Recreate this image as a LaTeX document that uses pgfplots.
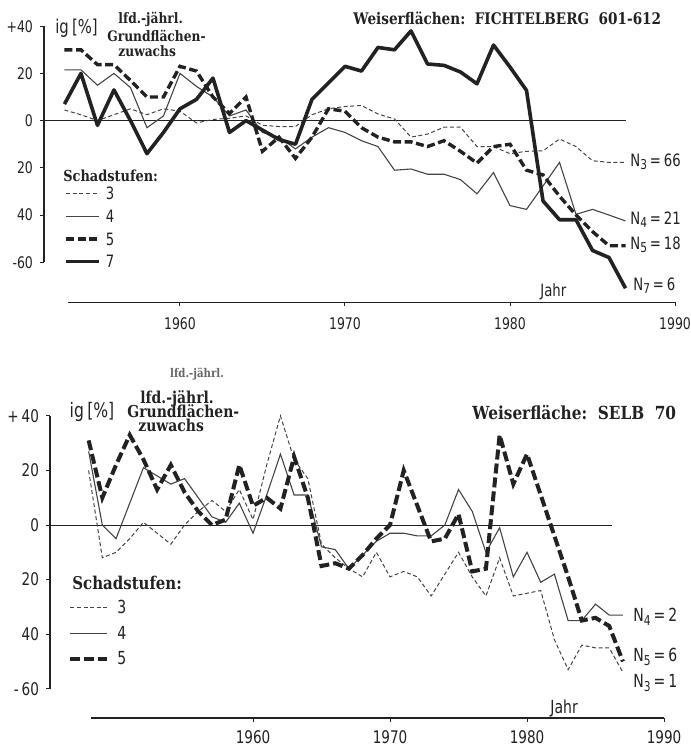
\documentclass[border=0pt]{standalone}
\usepackage{fontspec}
\usepackage{pgfplots}
\pgfplotsset{compat=1.18}
\newfontfamily\din[FakeStretch=0.78]{DejaVu Sans}
\newfontfamily\serifb[FakeStretch=0.85]{DejaVu Serif}
\definecolor{ink}{HTML}{222222}
\definecolor{thinc}{HTML}{444444}
\newcommand\sub[1]{\raisebox{-0.35ex}{\fontsize{6.8}{6.8}\selectfont #1}}
\pgfplotsset{
  sthree/.style={line width=0.5pt, thinc, dash pattern=on 2pt off 1.3pt, no marks},
  sfour/.style={line width=0.55pt, thinc, no marks},
  sfive/.style={line width=1.7pt, ink, dash pattern=on 4pt off 1.8pt, no marks},
  sseven/.style={line width=1.8pt, ink, line join=round, no marks},
}
\begin{document}
\begin{tikzpicture}
\useasboundingbox (0,0) rectangle (345pt,373.5pt);
% ---------------- TOP ----------------
\begin{axis}[
  at={(22pt,222.3pt)}, anchor=south west,
  scale only axis, width=315.5pt, height=144pt,
  xmin=1951.76, xmax=1990, ymin=-77, ymax=45,
  axis line style={draw=none}, clip=false,
  xtick={1960,1970,1980,1990}, xticklabels={1960,1970,1980,1990},
  ytick={-60,-40,-20,0,20,40}, yticklabels={-60,40,20,0,20,+40},
  tick pos=left, tick align=outside, major tick length=2pt,
  tick style={ink, line width=0.5pt},
  ticklabel style={font=\din\fontsize{8}{8}\selectfont, text=ink},
  xticklabel style={yshift=-2pt},
  legend cell align=left,
  legend image code/.code={\draw[#1] (0pt,0pt) -- (16.5pt,0pt);},
  legend style={at={(axis description cs:0.0317,0.399)}, anchor=north west,
    draw=none, fill=none, inner sep=0pt, row sep=5.3pt,
    nodes={inner ysep=0pt, inner xsep=2.5pt, text height=6pt, text depth=0pt,
      font=\din\fontsize{8.5}{8.5}\selectfont, text=ink}},
]
\addplot[forget plot, line width=0.5pt, ink] coordinates {(1951.76,0) (1987,0)};
\addplot[sthree] coordinates {
(1953,4.5)(1954,2.5)(1955,0)(1956,2.5)(1957,5)(1958,2.5)(1959,5)(1960,4)(1961,-1)(1962,0.5)
(1963,1)(1964,2)(1965,-2)(1966,-2.5)(1967,-2.5)(1968,2.5)(1969,5)(1970,6)(1971,6.4)(1972,2.8)
(1973,0.7)(1974,-7)(1975,-5.7)(1976,-2.8)(1977,-2.8)(1978,-11)(1979,-11)(1980,-14)(1981,-13)
(1982,-12.8)(1983,-7.8)(1984,-11)(1985,-17)(1986,-17.7)(1987,-17.7)};
\addplot[sfour] coordinates {
(1953,21.5)(1954,21.5)(1955,15)(1956,20)(1957,14)(1958,-3)(1959,2)(1960,20)(1961,14.5)(1962,10)
(1963,2)(1964,4.5)(1965,-5)(1966,-7)(1967,-12)(1968,-7)(1969,-3)(1970,-5)(1971,-8.5)(1972,-11)
(1973,-21)(1974,-20.5)(1975,-22.7)(1976,-22.7)(1977,-25)(1978,-31)(1979,-22)(1980,-36)(1981,-37.6)
(1982,-27.7)(1983,-17.7)(1984,-39.7)(1985,-37.6)(1986,-40)(1987,-42.5)};
\addplot[sfive] coordinates {
(1953,30)(1954,30)(1955,23.7)(1956,23.7)(1957,17)(1958,10)(1959,10)(1960,23)(1961,21)(1962,10)
(1963,3)(1964,10)(1965,-13)(1966,-7)(1967,-16)(1968,-7)(1969,5)(1970,4)(1971,-3)(1972,-7)
(1973,-9)(1974,-9)(1975,-11)(1976,-8.5)(1977,-13)(1978,-18)(1979,-11)(1980,-10)(1981,-21)
(1982,-23)(1983,-32)(1984,-40)(1985,-47)(1986,-53)(1987,-53)};
\addplot[sseven] coordinates {
(1953,7)(1954,20)(1955,-2)(1956,13)(1957,0)(1958,-14)(1959,-5)(1960,5)(1961,9)(1962,18)
(1963,-5)(1964,0)(1965,-4)(1966,-8)(1967,-10)(1968,9)(1969,16)(1970,23)(1971,21)(1972,31)
(1973,30)(1974,38)(1975,24)(1976,23.4)(1977,20.6)(1978,15.6)(1979,32)(1980,22.7)(1981,12.8)
(1982,-34)(1983,-42)(1984,-42)(1985,-55)(1986,-58)(1987,-71)};
\legend{3,4,5,7}
\draw[ink, line width=0.6pt] (axis cs:1951.76,-60) -- (axis cs:1951.76,40);
\draw[ink, line width=0.6pt] (axis cs:1953.2,-77) -- (axis cs:1990,-77);
\end{axis}
% ---------------- BOTTOM ----------------
\begin{axis}[
  at={(25pt,14.5pt)}, anchor=south west,
  scale only axis, width=307pt, height=157.9pt,
  xmin=1945.18, xmax=1990, ymin=-70.7, ymax=45,
  axis line style={draw=none}, clip=false,
  xtick={1960,1970,1980,1990}, xticklabels={1960,1970,1980,1990},
  ytick={-60,-40,-20,0,20,40}, yticklabels={-\,60,40,20,0,20,+\,40},
  tick pos=left, tick align=outside, major tick length=2pt,
  tick style={ink, line width=0.5pt},
  ticklabel style={font=\din\fontsize{8.7}{8.7}\selectfont, text=ink},
  xticklabel style={yshift=-1pt},
  legend cell align=left,
  legend image code/.code={\draw[#1] (0pt,0pt) -- (18.5pt,0pt);},
  legend style={at={(axis description cs:0.0293,0.370)}, anchor=north west,
    draw=none, fill=none, inner sep=0pt, row sep=6.8pt,
    nodes={inner ysep=0pt, inner xsep=4pt, text height=6pt, text depth=0pt,
      font=\din\fontsize{9}{9}\selectfont, text=ink}},
]
\addplot[forget plot, line width=0.5pt, ink] coordinates {(1945.18,0) (1986.2,0)};
\addplot[sthree] coordinates {
(1948,20)(1949,-12)(1950,-10)(1951,-5)(1952,1)(1953,-3)(1954,-7)(1955,0)(1956,5)(1957,9)
(1958,5)(1959,13)(1960,2)(1961,22)(1962,40)(1963,24)(1964,17)(1965,-7)(1966,-12)(1967,-16)
(1968,-19)(1969,-10)(1970,-19)(1971,-17)(1972,-19)(1973,-26)(1974,-18)(1975,-10)(1976,-19)
(1977,-26)(1978,-12)(1979,-26)(1980,-25)(1981,-24)(1982,-42)(1983,-53)(1984,-44)(1985,-45)
(1986,-45)(1987,-54)};
\addplot[sfour] coordinates {
(1948,27)(1949,0)(1950,-5)(1951,8)(1952,21)(1953,18)(1954,15)(1955,17)(1956,10)(1957,3)
(1958,1)(1959,8)(1960,-3)(1961,11)(1962,26)(1963,11)(1964,11)(1965,-8)(1966,-9)(1967,-16)
(1968,-11)(1969,-6)(1970,-3)(1971,-3)(1972,-4)(1973,-4)(1974,0)(1975,13)(1976,5)(1977,-10)
(1978,-1)(1979,-19)(1980,-10)(1981,-21)(1982,-18)(1983,-35)(1984,-35)(1985,-29)(1986,-33)
(1987,-33)};
\addplot[sfive, line width=2pt, dash pattern=on 5pt off 2pt] coordinates {
(1948,31)(1949,10)(1950,22)(1951,33)(1952,24)(1953,13)(1954,22)(1955,12)(1956,5)(1957,0)
(1958,2)(1959,22)(1960,7)(1961,10)(1962,6)(1963,25)(1964,10)(1965,-15)(1966,-14)(1967,-16)
(1968,-11)(1969,-5)(1970,0)(1971,20)(1972,7)(1973,-6)(1974,-5)(1975,4)(1976,-17)(1977,-16)
(1978,33)(1979,15)(1980,26)(1981,11)(1982,-4)(1983,-19)(1984,-35)(1985,-34)(1986,-37)
(1987,-50)};
\legend{3,4,5}
\draw[ink, line width=0.6pt] (axis cs:1945.18,-60) -- (axis cs:1945.18,40);
\draw[ink, line width=0.6pt] (axis cs:1948.2,-70.7) -- (axis cs:1990,-70.7);
\end{axis}
% ---------------- TEXTS ----------------
\begin{scope}[every node/.style={inner sep=0pt, text=ink}]
% top
\node[font=\din\fontsize{9.5}{9.5}\selectfont] at (38.25pt,359.5pt) {ig\,[\%]};
\node[anchor=base west, font=\serifb\bfseries\fontsize{7.2}{7.2}\selectfont] at (59pt,361.5pt) {lfd.-jährl.};
\node[anchor=base west, font=\serifb\bfseries\fontsize{7.2}{7.2}\selectfont] at (53.5pt,352.5pt) {Grundflächen-};
\node[anchor=base west, font=\serifb\bfseries\fontsize{7.2}{7.2}\selectfont] at (59pt,345pt) {zuwachs};
\node[anchor=west, font=\serifb\bfseries\fontsize{8}{8}\selectfont] at (176.5pt,364.5pt) {Weiserflächen:\ \ FICHTELBERG\ \ 601-612};
\node[anchor=west, font=\serifb\bfseries\fontsize{7.6}{7.6}\selectfont] at (31.5pt,285.5pt) {Schadstufen:};
\node[anchor=west, font=\din\fontsize{8.5}{8.5}\selectfont] at (315pt,292.5pt) {N\sub{3}\,=\,66};
\node[anchor=west, font=\din\fontsize{8.5}{8.5}\selectfont] at (315pt,263.5pt) {N\sub{4}\,=\,21};
\node[anchor=west, font=\din\fontsize{8.5}{8.5}\selectfont] at (315pt,251pt) {N\sub{5}\,=\,18};
\node[anchor=west, font=\din\fontsize{8.5}{8.5}\selectfont] at (316.5pt,230.5pt) {N\sub{7}\,=\,6};
\node[anchor=west, font=\din\fontsize{8.5}{8.5}\selectfont] at (270pt,227.5pt) {Jahr};
% bottom
\node[font=\serifb\bfseries\fontsize{6}{6}\selectfont, text=black!60] at (98.5pt,186.5pt) {lfd.-jährl.};
\node[font=\din\fontsize{10}{10}\selectfont] at (46pt,167.5pt) {ig\,[\%]};
\node[anchor=base west, font=\serifb\bfseries\fontsize{8.2}{8.2}\selectfont] at (70pt,171.5pt) {lfd.-jährl.};
\node[anchor=base west, font=\serifb\bfseries\fontsize{8.2}{8.2}\selectfont] at (63.5pt,164.5pt) {Grundflächen-};
\node[anchor=base west, font=\serifb\bfseries\fontsize{8.2}{8.2}\selectfont] at (69pt,157.5pt) {zuwachs};
\node[anchor=west, font=\serifb\bfseries\fontsize{9}{9}\selectfont] at (236pt,167pt) {Weiserfläche:\ \ SELB\ \ 70};
\node[anchor=west, font=\serifb\bfseries\fontsize{8.8}{8.8}\selectfont] at (36pt,82pt) {Schadstufen:};
\node[anchor=west, font=\din\fontsize{9}{9}\selectfont] at (316.5pt,65pt) {N\sub{4}\,=\,2};
\node[anchor=west, font=\din\fontsize{9}{9}\selectfont] at (316.5pt,45pt) {N\sub{5}\,=\,6};
\node[anchor=west, font=\din\fontsize{9}{9}\selectfont] at (316.5pt,32pt) {N\sub{3}\,=\,1};
\node[anchor=west, font=\din\fontsize{9}{9}\selectfont] at (275pt,19.5pt) {Jahr};
\end{scope}
\end{tikzpicture}
\end{document}
